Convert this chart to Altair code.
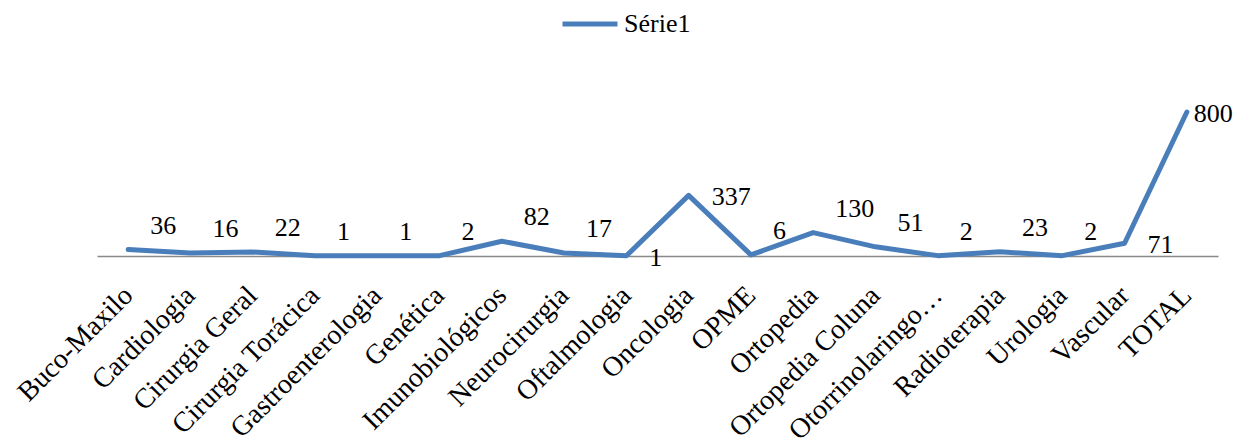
import altair as alt
import pandas as pd

categories = ["Buco-Maxilo", "Cardiologia", "Cirurgia Geral", "Cirurgia Torácica",
              "Gastroenterologia", "Genética", "Imunobiológicos", "Neurocirurgia",
              "Oftalmologia", "Oncologia", "OPME", "Ortopedia", "Ortopedia Coluna",
              "Otorrinolaringo…", "Radioterapia", "Urologia", "Vascular", "TOTAL"]
values = [36, 16, 22, 1, 1, 2, 82, 17, 1, 337, 6, 130, 51, 2, 23, 2, 71, 800]
series_name = "Série1"

df = pd.DataFrame({"categoria": categories, "valor": values,
                   "serie": [series_name] * len(categories)})

FONT = "Liberation Serif"
BLUE = "#4A7EBB"
right_placed = ["Oncologia", "Vascular", "Oftalmologia"]
total_label = ["TOTAL"]

x_enc = alt.X("categoria:N", sort=categories, title=None,
              axis=alt.Axis(labelAngle=-45, labelAlign="right", labelBaseline="middle",
                            labelFont=FONT, labelFontSize=28, labelColor="black",
                            labelPadding=35, ticks=False, grid=False,
                            domainColor="#898989", domainWidth=1.5, labelOverlap=False,
                            labelLimit=400))
y_enc = alt.Y("valor:Q", scale=alt.Scale(domain=[0, 1000]), axis=None)
x_plain = alt.X("categoria:N", sort=categories)

base = alt.Chart(df)

line = base.mark_line(strokeWidth=5, strokeCap="round", strokeJoin="round").encode(
    x=x_enc, y=y_enc,
    color=alt.Color("serie:N", scale=alt.Scale(range=[BLUE]),
                    legend=alt.Legend(orient="none", legendX=463, legendY=-82,
                                      title=None, direction="horizontal",
                                      symbolType="stroke", symbolStrokeWidth=5,
                                      symbolSize=3025, labelFont=FONT,
                                      labelFontSize=26, labelColor="black",
                                      labelOffset=4, padding=0)))

labels_above = base.transform_filter(
    ~alt.FieldOneOfPredicate(field="categoria", oneOf=right_placed + total_label)
).mark_text(align="left", baseline="alphabetic", dx=22, dy=-16,
            font=FONT, fontSize=26, color="black").encode(
    x=x_plain, y=y_enc, text="valor:Q")

labels_right = base.transform_filter(
    alt.FieldOneOfPredicate(field="categoria", oneOf=right_placed)
).mark_text(align="left", baseline="middle", dx=23, dy=2,
            font=FONT, fontSize=26, color="black").encode(
    x=x_plain, y=y_enc, text="valor:Q")

labels_total = base.transform_filter(
    alt.FieldOneOfPredicate(field="categoria", oneOf=total_label)
).mark_text(align="left", baseline="middle", dx=7, dy=2,
            font=FONT, fontSize=26, color="black").encode(
    x=x_plain, y=y_enc, text="valor:Q")

chart = alt.layer(line, labels_above, labels_right, labels_total).properties(
    width=1121, height=180,
    background="white",
    autosize=alt.AutoSizeParams(type="none"),
    padding={"left": 89, "top": 68, "right": 17, "bottom": 200},
).configure_view(stroke=None)

chart.save("out.html", embed_options={"renderer": "svg", "actions": False})
